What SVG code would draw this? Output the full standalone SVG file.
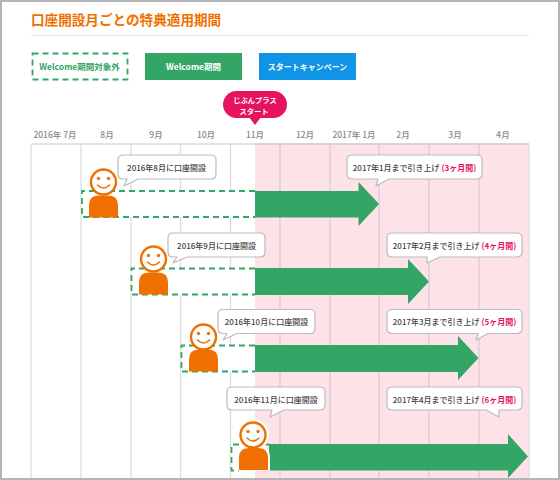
<svg xmlns="http://www.w3.org/2000/svg" width="560" height="480" viewBox="0 0 560 480">
<defs>
<style>
text{font-family:"Noto Sans CJK JP","Noto Sans",sans-serif;}
.m{font-size:8.5px;fill:#888;text-anchor:middle;font-weight:500}
.g{stroke:#ddd;stroke-width:1.3;fill:none}
.gp{stroke:#d9ccd2;stroke-width:1.3;fill:none}
.d{fill:#fff;stroke:#33a565;stroke-width:1.8;stroke-dasharray:6 4}
.a{fill:#33a565}
.c{fill:#fff;stroke:#bbb;stroke-width:1.2;stroke-linejoin:round}
.t{font-size:8px;fill:#444;font-weight:500;text-anchor:middle}
.r{fill:#e8135f;font-weight:700}
.o{fill:#ef7000}
.f{fill:#fff;stroke:#ef7000;stroke-width:2.4}
.s{fill:none;stroke:#ef7000;stroke-width:1.6;stroke-linecap:round}
</style>
<g id="face">
<circle class="f" cx="0" cy="0" r="12.5"/>
<circle class="o" cx="-5" cy="-3.5" r="1.7"/>
<circle class="o" cx="5" cy="-3.5" r="1.7"/>
<path class="s" d="M-6 3Q0 9 6 3"/>
</g>
<path id="body" class="o" d="M-14.500 23V11Q-14.500 1 -5 1H5Q14.500 1 14.500 11V23Z"/>
</defs>
<rect x="0" y="0" width="560" height="480" fill="#fff"/>
<g id="panel">
<rect x="255" y="144" width="274" height="336" fill="#fde2e8"/>
<path class="g" d="M31 144H529M31 144V478M81 144V478M131 144V478M180.500 144V478M230.500 144V478M529 144V478"/>
<path class="gp" d="M280 144V478M330 144V478M379 144V478M429 144V478M479 144V478"/>
<path d="M255 144H529" stroke="#d9ccd2" stroke-width="1.300"/>
</g>
<text x="31" y="25" font-size="13.600" font-weight="700" fill="#ef7000">口座開設月ごとの特典適用期間</text>
<path d="M31 35.500H529" stroke="#e2e2e2" stroke-width="1"/>
<g id="legend-out"><rect x="32.500" y="53.500" width="95" height="26" fill="#fff" stroke="#33a565" stroke-width="1.800" stroke-dasharray="6 4"/><text x="79.500" y="70" font-size="8.500" font-weight="700" fill="#33a565" text-anchor="middle">Welcome期間対象外</text></g>
<g id="legend-welcome"><rect x="145" y="53" width="97" height="27" fill="#33a565"/><text x="193.500" y="70" font-size="8.500" font-weight="700" fill="#fff" text-anchor="middle">Welcome期間</text></g>
<g id="legend-start"><rect x="259" y="53" width="97" height="27" fill="#0f94e6"/><text x="307.500" y="70" font-size="8" font-weight="700" fill="#fff" text-anchor="middle">スタートキャンペーン</text></g>
<g id="badge"><rect x="223" y="91" width="64" height="27" rx="13.500" fill="#e8135f"/><path d="M249 117H261L255 125Z" fill="#e8135f"/><text x="255" y="103" font-size="7.300" font-weight="700" fill="#fff" text-anchor="middle">じぶんプラス</text><text x="254" y="113.500" font-size="7.300" font-weight="700" fill="#fff" text-anchor="middle">スタート</text></g>
<g id="months">
<text class="m" x="55" y="138">2016年 7月</text><text class="m" x="107" y="138">8月</text><text class="m" x="156" y="138">9月</text><text class="m" x="206" y="138">10月</text><text class="m" x="255" y="138">11月</text><text class="m" x="305" y="138">12月</text><text class="m" x="354" y="138">2017年 1月</text><text class="m" x="403" y="138">2月</text><text class="m" x="455" y="138">3月</text><text class="m" x="503" y="138">4月</text>
</g>
<g id="connectors">
<path class="d" d="M255 191H82V217H255"/>
<path class="a" d="M255 191H358.500V182L379 204L358.500 226V217.500H255Z"/>
<path class="d" d="M255 268.500H131.500V294.500H255"/>
<path class="a" d="M255 268H408V259L429 281.500L408 304V295H255Z"/>
<path class="d" d="M255 345.500H181.500V371.500H255"/>
<path class="a" d="M255 345H458V336L478.500 358L458 380V372H255Z"/>
<path class="d" d="M269 444.500H231.500V470.500H239"/>
<path class="a" d="M269 444H508V434L528 456.500L508 478V470.500H269Z"/>
</g>
<g id="person-1"><use href="#body" x="103.500" y="194.500"/><use href="#face" x="103.500" y="182"/></g>
<g id="person-2"><use href="#body" x="153.500" y="271.500"/><use href="#face" x="153.500" y="259"/></g>
<g id="person-3"><use href="#body" x="203.500" y="348.500"/><use href="#face" x="203.500" y="337"/></g>
<g id="person-4"><path d="M237 470.500V458Q237 445 250 445H257Q270 445 270 458V470.500Z" fill="#fff"/><circle cx="253" cy="435" r="16" fill="#fff"/><use href="#body" x="253.500" y="447"/><use href="#face" x="253" y="435"/></g>
<g id="callout-1"><path class="c" d="M123 155H211Q216 155 216 160V174Q216 179 211 179H138L124 186L127 179H123Q118 179 118 174V160Q118 155 123 155Z"/><text class="t" x="166.500" y="170.500">2016年8月に口座開設</text></g>
<g id="callout-2"><path class="c" d="M173 233H260Q265 233 265 238V252Q265 257 260 257H187L173 263L177 257H173Q168 257 168 252V238Q168 233 173 233Z"/><text class="t" x="216.500" y="248.500">2016年9月に口座開設</text></g>
<g id="callout-3"><path class="c" d="M223 309.500H310Q315 309.500 315 314.500V328.500Q315 333.500 310 333.500H237L223 340L227 333.500H223Q218 333.500 218 328.500V314.500Q218 309.500 223 309.500Z"/><text class="t" x="266.500" y="325">2016年10月に口座開設</text></g>
<g id="callout-4"><path class="c" d="M232 387H320Q325 387 325 392V405Q325 410 320 410H284L270 417L272 410H232Q227 410 227 405V392Q227 387 232 387Z"/><text class="t" x="276" y="402.500">2016年11月に口座開設</text></g>
<g id="callout-5"><path class="c" d="M352 155H477Q482 155 482 160V174Q482 179 477 179H389L376 186L378 179H352Q347 179 347 174V160Q347 155 352 155Z"/><text class="t" x="414.500" y="170.500">2017年1月まで引き上げ <tspan class="r">(3ヶ月間)</tspan></text></g>
<g id="callout-6"><path class="c" d="M392 233H517Q522 233 522 238V252Q522 257 517 257H440L427 263L427 257H392Q387 257 387 252V238Q387 233 392 233Z"/><text class="t" x="454.500" y="248.500">2017年2月まで引き上げ <tspan class="r">(4ヶ月間)</tspan></text></g>
<g id="callout-7"><path class="c" d="M392 309.500H517Q522 309.500 522 314.500V328.500Q522 333.500 517 333.500H488L476 340L478 333.500H392Q387 333.500 387 328.500V314.500Q387 309.500 392 309.500Z"/><text class="t" x="454.500" y="325">2017年3月まで引き上げ <tspan class="r">(5ヶ月間)</tspan></text></g>
<g id="callout-8"><path class="c" d="M392 387H517Q522 387 522 392V405Q522 410 517 410H499L499 417L486 410H392Q387 410 387 405V392Q387 387 392 387Z"/><text class="t" x="454.500" y="402.500">2017年4月まで引き上げ <tspan class="r">(6ヶ月間)</tspan></text></g>
<path id="frame" d="M1 1H559V479H1Z" fill="none" stroke="#b5b5b5" stroke-width="2"/>
</svg>
